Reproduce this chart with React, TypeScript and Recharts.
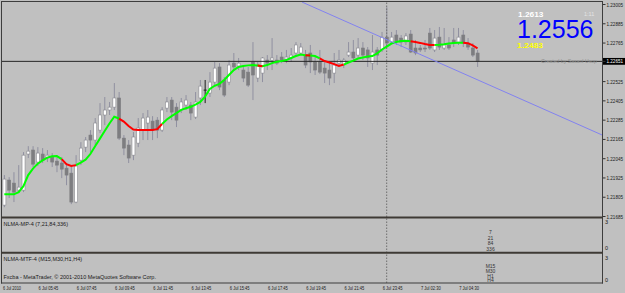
import React from 'react';
import { ComposedChart, Bar, Line, XAxis, YAxis, ReferenceLine } from 'recharts';

// EURUSD-like M15 candles (price units)
const opens = [1.21756,1.21912,1.21893,1.21849,1.21849,1.22074,1.22099,1.22024,1.22074,1.22049,1.22055,1.2203,1.22018,1.21986,1.21955,1.21775,1.22036,1.22117,1.22192,1.22161,1.22223,1.22317,1.22348,1.22366,1.22423,1.22173,1.2213,1.22067,1.22142,1.22223,1.22267,1.22279,1.22285,1.22223,1.2236,1.2241,1.22366,1.22348,1.22379,1.22379,1.22304,1.22423,1.22472,1.22454,1.22522,1.22616,1.22535,1.22522,1.2264,1.22622,1.22597,1.22584,1.22647,1.22547,1.22578,1.22659,1.22659,1.22659,1.22678,1.22665,1.22672,1.22703,1.22703,1.2269,1.22703,1.22647,1.22647,1.22609,1.22597,1.22578,1.2264,1.22628,1.2269,1.22709,1.2269,1.22734,1.22722,1.2264,1.22722,1.22722,1.22802,1.22771,1.22815,1.22796,1.22771,1.22821,1.22734,1.22734,1.22734,1.22827,1.22722,1.22802,1.22734,1.22753,1.22784,1.22771,1.22815,1.22765,1.22734,1.22703];
const highs = [1.21943,1.2193,1.21961,1.22005,1.22086,1.22123,1.22123,1.22117,1.22111,1.22099,1.2208,1.22055,1.22055,1.22018,1.21993,1.22067,1.22148,1.2218,1.22223,1.22298,1.22391,1.22429,1.22398,1.22516,1.2246,1.22192,1.22161,1.22211,1.22298,1.22329,1.22348,1.2231,1.22304,1.22366,1.22429,1.22429,1.22391,1.22423,1.22441,1.22398,1.2246,1.22535,1.22535,1.22584,1.22647,1.2264,1.22553,1.22659,1.22703,1.22672,1.22628,1.22616,1.22771,1.22647,1.22678,1.2269,1.22796,1.2269,1.22709,1.22722,1.22734,1.22771,1.22765,1.22722,1.22753,1.22678,1.22722,1.22659,1.22647,1.22703,1.22722,1.22672,1.22771,1.22784,1.22796,1.22771,1.2274,1.22815,1.2274,1.22834,1.22989,1.22834,1.22846,1.22815,1.22827,1.22846,1.22784,1.22753,1.22784,1.22859,1.22846,1.22865,1.22859,1.22802,1.22859,1.22859,1.22846,1.22796,1.22765,1.22722];
const lows = [1.21743,1.218,1.21775,1.21831,1.21837,1.22049,1.21993,1.21999,1.22018,1.22024,1.21993,1.21961,1.21924,1.2188,1.21762,1.21768,1.22005,1.22086,1.22086,1.2213,1.22204,1.22254,1.22317,1.22348,1.22161,1.22067,1.22018,1.22036,1.22117,1.22161,1.22161,1.22161,1.22173,1.22211,1.22335,1.22285,1.22242,1.22329,1.22348,1.22285,1.22292,1.22379,1.22391,1.22429,1.22503,1.22472,1.22429,1.22503,1.22597,1.22597,1.22522,1.22491,1.2241,1.22522,1.22522,1.22597,1.22597,1.22628,1.2264,1.2264,1.22647,1.22678,1.2269,1.22609,1.22578,1.22566,1.22572,1.22516,1.22503,1.22516,1.22616,1.22609,1.22678,1.22659,1.22678,1.22659,1.22616,1.22597,1.22628,1.22709,1.2274,1.22765,1.22753,1.2274,1.22753,1.22703,1.2269,1.22709,1.22709,1.22722,1.22709,1.22722,1.22722,1.22722,1.2274,1.22753,1.2274,1.22722,1.22678,1.22616];
const closes = [1.21918,1.21849,1.21837,1.21868,1.22067,1.22092,1.22011,1.2208,1.22036,1.22067,1.22024,1.22005,1.2198,1.21943,1.21775,1.21999,1.22111,1.22161,1.22161,1.22267,1.22317,1.22348,1.22366,1.22423,1.22173,1.22111,1.22049,1.2218,1.22236,1.22298,1.22304,1.22223,1.22223,1.22348,1.22398,1.22335,1.22285,1.22398,1.2241,1.22329,1.22398,1.22497,1.22472,1.22522,1.22609,1.22491,1.22441,1.22628,1.22616,1.2264,1.22547,1.22503,1.22566,1.22622,1.22672,1.2264,1.22672,1.2264,1.22659,1.22678,1.2269,1.22753,1.2274,1.22628,1.22647,1.22597,1.22584,1.22578,1.22547,1.22628,1.22659,1.22659,1.22709,1.22672,1.22734,1.2269,1.22672,1.22709,1.2269,1.22802,1.22765,1.22802,1.22778,1.22771,1.22809,1.22709,1.22703,1.22722,1.22728,1.22734,1.22796,1.2274,1.22753,1.22734,1.22765,1.22802,1.22765,1.2274,1.2269,1.22651];

// NLMA moving average and its colour per bar (g = rising, r = falling)
const nlma = [1.21823,1.21823,1.21823,1.21837,1.21874,1.21943,1.21983,1.22014,1.22034,1.22052,1.2206,1.22061,1.22042,1.22011,1.22,1.22005,1.22021,1.22039,1.22074,1.22123,1.2217,1.22217,1.22264,1.22306,1.22295,1.22276,1.22248,1.22226,1.22223,1.22223,1.22223,1.22223,1.22229,1.22261,1.22289,1.2231,1.22329,1.22349,1.22359,1.22368,1.22382,1.22398,1.22432,1.22479,1.22499,1.22511,1.22535,1.22566,1.22597,1.22616,1.22622,1.22626,1.22628,1.22625,1.2262,1.22628,1.2264,1.22648,1.22653,1.22659,1.22672,1.22684,1.22694,1.22689,1.22687,1.22684,1.22669,1.22653,1.22644,1.22634,1.22622,1.22631,1.22644,1.22656,1.22669,1.22675,1.22681,1.22684,1.227,1.22725,1.22743,1.22762,1.22771,1.22778,1.22779,1.22776,1.22771,1.22766,1.22759,1.22753,1.22753,1.22754,1.22757,1.22762,1.22766,1.22767,1.22767,1.22764,1.2275,1.22732];
const nlmaColor = 'gggggggggggggrrrgggggggggrrrrrrrrrggggggggggggggggggggrgggggggggrggrrrrrggggggggggggggrrrrrggggggrrrr';

const timeTicks = [0, 7, 15, 23, 31, 39, 47, 55, 63, 71, 79, 87, 95];
const timeLabels = ['6 Jul 2010', '6 Jul 05:45', '6 Jul 07:45', '6 Jul 09:45', '6 Jul 11:45', '6 Jul 13:45', '6 Jul 15:45', '6 Jul 17:45', '6 Jul 19:45', '6 Jul 21:45', '6 Jul 23:45', '7 Jul 02:30', '7 Jul 04:30'];
const priceTicks = [1.23005, 1.22885, 1.22765, 1.22651, 1.22525, 1.22405, 1.22285, 1.22165, 1.22045, 1.21925, 1.21805, 1.21685];
const bidPrice = 1.22651;
const daySeparatorBar = 80;
const trendLine = [{ bar: 62.3, price: 1.2302 }, { bar: 125.1, price: 1.22192 }];
const xDomain = [-0.48, 125.25];
const yDomain = [1.21271, 1.230206];

const infoHigh = '1.2613';
const infoPrice = '1.2556';
const infoLow = '1.2483';
const infoTimer = '1:11';
const creditText = 'Created by Sasanl Usop';
const pane1Title = 'NLMA-MP-4 (7,21,84,336)';
const pane1Values = ['7', '21', '84', '336'];
const pane2Title = 'NLMA-MTF-4 (M15,M30,H1,H4)';
const pane2Values = ['M15', 'M30', 'H1', 'H4'];
const footer = 'Fxcba - MetaTrader, \u00a9 2001-2010 MetaQuotes Software Corp.';

const FONT = 'Liberation Sans, Arial, sans-serif';

const rows = opens.map((o, i) => {
  const here = nlmaColor[i];
  const next = i + 1 < nlmaColor.length ? nlmaColor[i + 1] : here;
  return {
    i,
    open: o,
    high: highs[i],
    low: lows[i],
    close: closes[i],
    range: [lows[i], highs[i]],
    maG: here === 'g' || next === 'g' ? nlma[i] : null,
    maR: here === 'r' || next === 'r' ? nlma[i] : null,
  };
});

const Candle = (props: any) => {
  const { x, y, width, height, payload } = props;
  if (!payload || height == null) return null;
  const { open, close, high, low } = payload;
  const cx = x + width / 2;
  const span = high - low || 1e-9;
  const yOf = (p: number) => y + ((high - p) / span) * height;
  const top = yOf(Math.max(open, close));
  const bot = yOf(Math.min(open, close));
  const bull = close > open;
  const doji = Math.abs(close - open) < 1e-7;
  const wick = doji ? '#1e1e1e' : '#9090a0';
  return (
    <g>
      <line x1={cx} x2={cx} y1={y} y2={y + height} stroke={wick} strokeWidth={1} />
      {doji ? (
        <line x1={cx - 1.5} x2={cx + 1.5} y1={top} y2={top} stroke="#1e1e1e" strokeWidth={1} />
      ) : (
        <rect
          x={cx - 1.5}
          y={top}
          width={3}
          height={Math.max(bot - top, 1)}
          fill={bull ? '#ffffff' : '#7d7d80'}
          stroke={bull ? '#8a8a90' : '#7d7d80'}
          strokeWidth={0.6}
        />
      )}
    </g>
  );
};

const XTick = (props: any) => {
  const { x, y, payload, index } = props;
  const label = timeLabels[timeTicks.indexOf(payload.value)] ?? '';
  const tx = index === 0 ? 3 : x + 0.8;
  return (
    <text x={tx} y={y + 7} fontSize={5.2} fill="#1a1a1a" fontFamily={FONT} textLength={label.length * 1.8} lengthAdjust="spacingAndGlyphs">
      {label}
    </text>
  );
};

const YTick = (props: any) => {
  const { x, y, payload } = props;
  const v = payload.value as number;
  const isBid = Math.abs(v - bidPrice) < 1e-7;
  return (
    <g>
      {isBid && <rect x={x} y={y - 3.4} width={23} height={6.8} fill="#000000" />}
      <line x1={x} x2={x + 2.5} y1={y} y2={y} stroke="#333" strokeWidth={1} />
      <text x={x + 3.5} y={y + 2} fontSize={5.3} fill={isBid ? '#ffffff' : '#1a1a1a'} fontFamily={FONT} textLength={16.5} lengthAdjust="spacingAndGlyphs">
        {v.toFixed(5)}
      </text>
    </g>
  );
};

export default function App() {
  const frame = '#3d3d3d';
  const sep = '#3e3a35';
  return (
    <div style={{ position: 'absolute', left: 0, top: 0, width: 625, height: 293, background: '#c0c0c0', overflow: 'hidden' }}>
      <ComposedChart width={625} height={293} data={rows} margin={{ top: 2, right: 0, bottom: 0, left: 2 }}>
        <XAxis
          type="number"
          dataKey="i"
          domain={xDomain}
          allowDataOverflow
          ticks={timeTicks}
          interval={0}
          height={10}
          tickSize={0}
          tickMargin={0}
          axisLine={false}
          tickLine={false}
          tick={<XTick />}
        />
        <YAxis
          orientation="right"
          domain={yDomain}
          allowDataOverflow
          ticks={priceTicks}
          interval={0}
          width={22}
          tickSize={0}
          tickMargin={0}
          axisLine={false}
          tickLine={false}
          tick={<YTick />}
        />
        <ReferenceLine y={bidPrice} stroke="#262626" strokeWidth={1} />
        <ReferenceLine x={daySeparatorBar} stroke="#6e6e6e" strokeWidth={1} strokeDasharray="1.5 1.5" />
        <Bar dataKey="range" barSize={3} shape={<Candle />} isAnimationActive={false} />
        <Line dataKey="maG" stroke="#00ff00" strokeWidth={2} dot={false} activeDot={false} isAnimationActive={false} connectNulls={false} type="linear" />
        <Line dataKey="maR" stroke="#ff0000" strokeWidth={2} dot={false} activeDot={false} isAnimationActive={false} connectNulls={false} type="linear" />
        <ReferenceLine
          segment={[{ x: trendLine[0].bar, y: trendLine[0].price }, { x: trendLine[1].bar, y: trendLine[1].price }]}
          stroke="#8282f0"
          strokeWidth={1}
          ifOverflow="hidden"
        />
      </ComposedChart>
      <svg width={625} height={293} style={{ position: 'absolute', left: 0, top: 0, pointerEvents: 'none' }}>
        {/* frame */}
        <line x1={1.5} x2={1.5} y1={1} y2={283.5} stroke={frame} strokeWidth={1} />
        <line x1={1} x2={603} y1={1.5} y2={1.5} stroke={frame} strokeWidth={1} />
        <line x1={602.5} x2={602.5} y1={1} y2={283.5} stroke={frame} strokeWidth={1} />
        <line x1={1} x2={603} y1={283} y2={283} stroke={frame} strokeWidth={1} />
        <line x1={1} x2={603} y1={217.5} y2={217.5} stroke={sep} strokeWidth={2} />
        <line x1={1} x2={603} y1={252.7} y2={252.7} stroke={sep} strokeWidth={2} />

        {/* info texts */}
        <text x={518} y={16.5} fontSize={7} fontWeight="bold" fill="#ffffff" fontFamily={FONT} textLength={25.5} lengthAdjust="spacingAndGlyphs">{infoHigh}</text>
        <text x={584} y={16} fontSize={5.5} fill="#e4e4e4" fontFamily={FONT}>{infoTimer}</text>
        <text x={517} y={38} fontSize={25} fill="#0000ff" fontFamily={FONT}>{infoPrice}</text>
        <text x={517} y={47.5} fontSize={7} fontWeight="bold" fill="#ffff00" fontFamily={FONT} textLength={26} lengthAdjust="spacingAndGlyphs">{infoLow}</text>
        <text x={541} y={62.5} fontSize={5.5} fill="#8e8e8e" fontFamily={FONT} textLength={56} lengthAdjust="spacingAndGlyphs">{creditText}</text>

        {/* pane 1 */}
        <text x={3.5} y={226} fontSize={5.5} fill="#1a1a1a" fontFamily={FONT}>{pane1Title}</text>
        {pane1Values.map((t, k) => (
          <text key={t} x={490.5} y={[234.3, 239.5, 245.3, 251][k]} fontSize={5} fill="#333" textAnchor="middle" fontFamily={FONT}>{t}</text>
        ))}
        <text x={605} y={224} fontSize={5.5} fill="#1a1a1a" fontFamily={FONT}>3</text>
        <text x={605} y={250} fontSize={5.5} fill="#1a1a1a" fontFamily={FONT}>0</text>

        {/* pane 2 */}
        <text x={3.5} y={261} fontSize={5.5} fill="#1a1a1a" fontFamily={FONT}>{pane2Title}</text>
        {pane2Values.map((t, k) => (
          <text key={t} x={490.5} y={[268, 273.2, 277.8, 282.4][k]} fontSize={5} fill="#333" textAnchor="middle" fontFamily={FONT}>{t}</text>
        ))}
        <text x={605} y={259.5} fontSize={5.5} fill="#1a1a1a" fontFamily={FONT}>3</text>
        <text x={605} y={281.5} fontSize={5.5} fill="#1a1a1a" fontFamily={FONT}>0</text>
        <text x={3.5} y={279} fontSize={5.5} fill="#1a1a1a" fontFamily={FONT}>{footer}</text>
      </svg>
    </div>
  );
}
